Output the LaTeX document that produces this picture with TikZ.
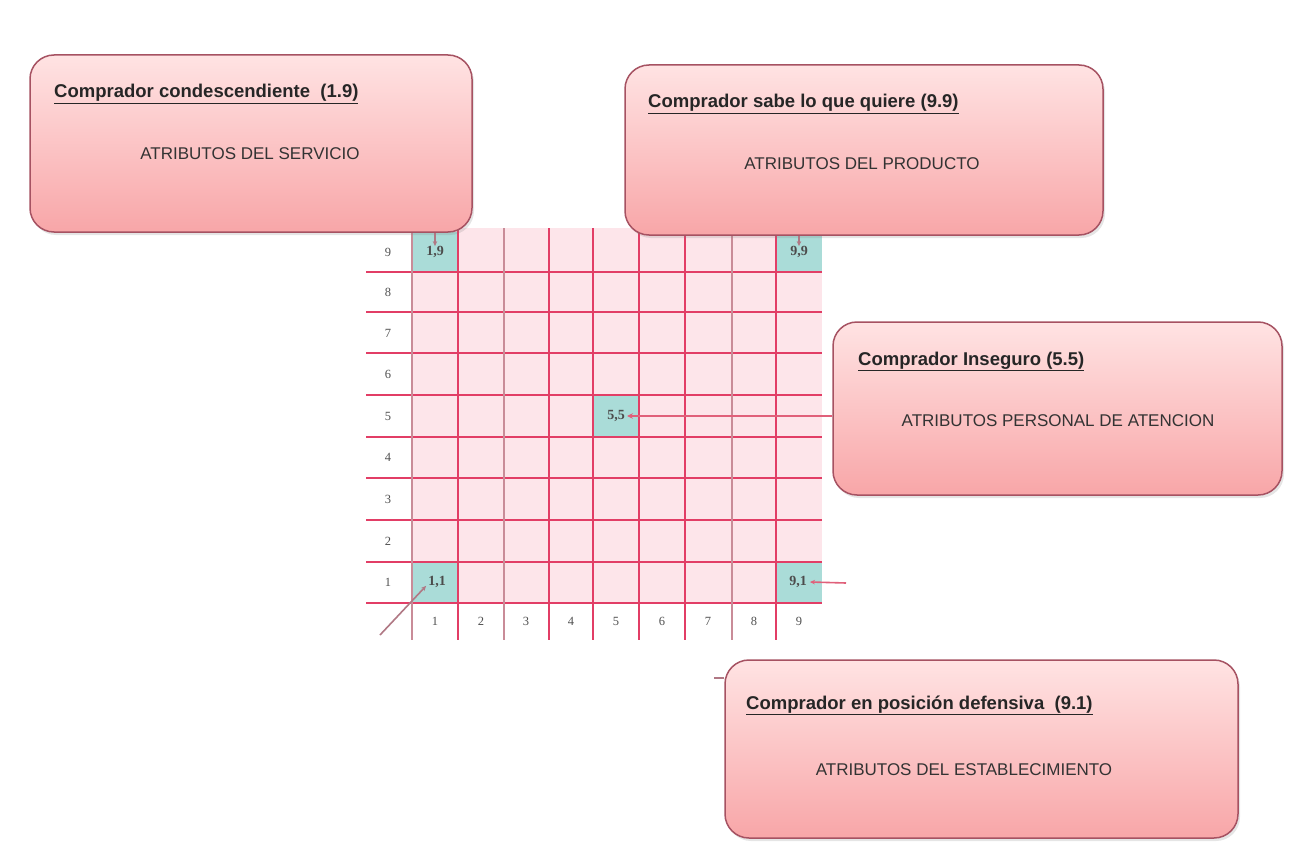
\documentclass[tikz,border=0pt]{standalone}
\usepackage{fontspec}
\setmainfont{Liberation Sans}
\newfontfamily\gridfont{Liberation Serif}
\usetikzlibrary{arrows.meta,shadows}
\definecolor{boxtop}{HTML}{FFE3E3}
\definecolor{boxbot}{HTML}{F8A6A8}
\definecolor{boxedge}{HTML}{A65262}
\definecolor{cellpink}{HTML}{FDE5EA}
\definecolor{gridred}{HTML}{E23E66}
\definecolor{gridthin}{HTML}{C98C98}
\definecolor{cellcyan}{HTML}{AADCD8}
\definecolor{linkred}{HTML}{E0607A}
\definecolor{linkgray}{HTML}{B07884}
\definecolor{numgray}{HTML}{505050}
\begin{document}
\begin{tikzpicture}[x=1pt,y=-1pt,
  buyerbox/.style={draw=boxedge, line width=1.5pt, rounded corners=24pt,
    top color=boxtop, bottom color=boxbot,
    drop shadow={shadow xshift=2pt, shadow yshift=-3pt, opacity=0.2, fill=gray}},
  boxtitle/.style={anchor=base west, inner sep=0pt, font=\fontsize{18.5}{20}\selectfont\bfseries, text=black!85},
  boxbody/.style={anchor=center, inner sep=0pt, font=\fontsize{17}{19}\selectfont, text=black!80},
  gridline/.style={draw=gridred, line width=2.8pt},
  gridlinethin/.style={draw=gridthin, line width=1.2pt},
  numlabel/.style={inner sep=0pt, font=\gridfont\fontsize{12.5}{13}\selectfont, text=numgray},
  celllabel/.style={inner sep=0pt, font=\gridfont\fontsize{14}{15}\selectfont\bfseries, text=black!70},
  conn/.style={draw=linkred, line width=2.6pt, -{Stealth[length=6pt,width=5.5pt]}},
  connthin/.style={draw=linkred, line width=1.6pt, -{Stealth[length=5pt,width=4.5pt]}},
  conngray/.style={draw=linkgray, line width=1.6pt, -{Stealth[length=5pt,width=4.5pt]}}
]
\useasboundingbox[fill=white] (0,0) rectangle (1290,856);

% grid background
\fill[cellpink] (412,228) rectangle (822,603);
% highlighted cells
\fill[cellcyan] (412,232) rectangle (458,272);
\fill[cellcyan] (776,232) rectangle (822,272);
\fill[cellcyan] (593,395) rectangle (639,437);
\fill[cellcyan] (412,562) rectangle (458,603);
\fill[cellcyan] (776,562) rectangle (822,603);

% horizontal lines
\foreach \y in {272,312,353,395,437,478,520,562,603}
  \draw[gridline] (366,\y) -- (822,\y);
% vertical lines
\foreach \x in {458,549,593,639,685,776}
  \draw[gridline] (\x,228) -- (\x,640);
\foreach \x in {412,504,732}
  \draw[gridlinethin] (\x,228) -- (\x,640);

% row labels
\foreach \n/\y in {9/252,8/292,7/333,6/374,5/416,4/457,3/499,2/541,1/582}
  \node[numlabel] (r\n) at (388,\y) {\n};
% column labels
\foreach \n/\x in {1/435,2/481,3/526,4/571,5/616,6/662,7/708,8/754,9/799}
  \node[numlabel] (k\n) at (\x,621) {\n};

% cell labels
\node[celllabel] (c19) at (435,252) {1,9};
\node[celllabel] (c99) at (799,252) {9,9};
\node[celllabel] (c55) at (616,416) {5,5};
\node[celllabel] (c11) at (437,582) {1,1};
\node[celllabel] (c91) at (798,582) {9,1};

% boxes
\node[buyerbox, minimum width=442pt, minimum height=177pt] (b1) at (251,143.5) {};
\node[buyerbox, minimum width=478pt, minimum height=170pt] (b2) at (864,150) {};
\node[buyerbox, minimum width=449pt, minimum height=173pt] (b3) at (1057.5,408.5) {};
\node[buyerbox, minimum width=513pt, minimum height=178pt] (b4) at (981.5,749) {};

\node[boxtitle] (t1) at (54,98) {\underline{Comprador condescendiente\ \ (1.9)}};
\node[boxbody] (d1) at (250,154) {ATRIBUTOS DEL SERVICIO};
\node[boxtitle] (t2) at (648,108) {\underline{Comprador sabe lo que quiere (9.9)}};
\node[boxbody] (d2) at (862,164) {ATRIBUTOS DEL PRODUCTO};
\node[boxtitle] (t3) at (858,365) {\underline{Comprador Inseguro (5.5)}};
\node[boxbody] (d3) at (1058,421) {ATRIBUTOS PERSONAL DE ATENCION};
\node[boxtitle] (t4) at (746,709) {\underline{Comprador en posición defensiva\ \ (9.1)}};
\node[boxbody] (d4) at (964,770) {ATRIBUTOS DEL ESTABLECIMIENTO};

% connectors
\coordinate (s11) at (380,635);
\coordinate (s91) at (846,583);
\coordinate (s4) at (714,678);
\draw[conn] (b3.west |- c55) -- ([xshift=2pt]c55.east);
\draw[connthin] (s91) -- ([xshift=3pt]c91.east);
\draw[conngray] (s11) -- ([xshift=-2pt,yshift=2pt]c11.south west);
\draw[conngray, -] (b4.west |- s4) -- (s4);
\draw[conngray] (b1.south -| c19) -- (c19.north);
\draw[conngray] (b2.south -| c99) -- (c99.north);
\end{tikzpicture}
\end{document}
